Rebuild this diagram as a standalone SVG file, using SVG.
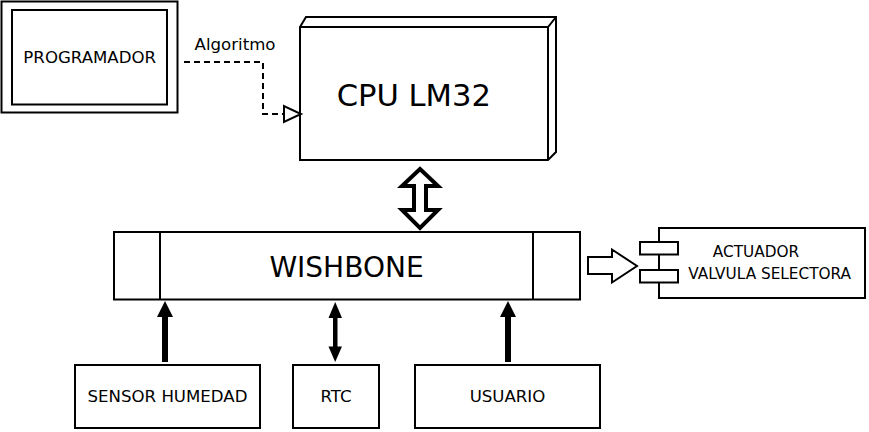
<svg xmlns="http://www.w3.org/2000/svg" width="869" height="432" viewBox="0 0 869 432">
<style>
.box{fill:#fff;stroke:#000;stroke-width:2}
.t{font-family:"DejaVu Sans",sans-serif;fill:#000}
.s{font-size:16.6px}
.big{font-size:30.6px}
.act{font-size:15.3px}
.fill{fill:#000;stroke:none}
</style>
<rect width="869" height="432" fill="#fff"/>
<g id="programador">
<rect class="box" x="1.5" y="1.5" width="176" height="111"/>
<rect class="box" x="12" y="10" width="155" height="94.5"/>
<text class="t s" x="89.7" y="63" text-anchor="middle">PROGRAMADOR</text>
</g>
<g id="cpu">
<path class="box" d="M300,27 L306,17 L556,17 L556,152 L548,160 L300,160 Z"/>
<path d="M300,27 L548,27 L556,17 M548,27 L548,160" fill="none" stroke="#000" stroke-width="2"/>
<text class="t big" x="413.8" y="106" text-anchor="middle">CPU LM32</text>
</g>
<g id="wishbone">
<rect class="box" x="114" y="232" width="466" height="67.5"/>
<line x1="160" y1="232" x2="160" y2="299.5" stroke="#000" stroke-width="2"/>
<line x1="533" y1="232" x2="533" y2="299.5" stroke="#000" stroke-width="2"/>
<text class="t" font-size="28" x="346.5" y="277" text-anchor="middle">WISHBONE</text>
</g>
<g id="actuador">
<rect class="box" x="659" y="228" width="206" height="70"/>
<rect class="box" x="640" y="242" width="38" height="12.5"/>
<rect class="box" x="640" y="270" width="38" height="12.5"/>
<text class="t act" x="756" y="257" text-anchor="middle">ACTUADOR</text>
<text class="t act" x="769.7" y="279" text-anchor="middle">VALVULA SELECTORA</text>
</g>
<g id="sensor">
<rect class="box" x="75" y="365" width="185" height="63"/>
<text class="t s" x="167.5" y="401.5" text-anchor="middle">SENSOR HUMEDAD</text>
</g>
<g id="rtc">
<rect class="box" x="293" y="365" width="86" height="63"/>
<text class="t s" x="336" y="401.5" text-anchor="middle">RTC</text>
</g>
<g id="usuario">
<rect class="box" x="415" y="365" width="185" height="63"/>
<text class="t s" x="507.5" y="401.5" text-anchor="middle">USUARIO</text>
</g>
<g id="connectors">
<text class="t s" x="235" y="50" text-anchor="middle">Algoritmo</text>
<polyline points="184,62 263,62 263,114 284,114" fill="none" stroke="#000" stroke-width="2" stroke-dasharray="6,4"/>
<polygon points="284,106 284,122 301,114" fill="#fff" stroke="#000" stroke-width="2"/>
<path d="M420,169 L438,186 L426,186 L426,210 L438,210 L420,228 L402,210 L414,210 L414,186 L402,186 Z" fill="#fff" stroke="#000" stroke-width="4" stroke-linejoin="miter"/>
<path d="M588,257 L612,257 L612,249.5 L637,266 L612,282.5 L612,274 L588,274 Z" fill="#fff" stroke="#000" stroke-width="2"/>
<rect class="fill" x="162" y="315" width="6" height="47"/>
<polygon class="fill" points="165,301 173,317 157,317"/>
<rect class="fill" x="505" y="315" width="6" height="47"/>
<polygon class="fill" points="508,301 516,317 500,317"/>
<rect class="fill" x="333" y="315" width="4.5" height="33"/>
<polygon class="fill" points="335.2,302 342,318 328.5,318"/>
<polygon class="fill" points="335.2,362 342,346.5 328.5,346.5"/>
</g>
</svg>
